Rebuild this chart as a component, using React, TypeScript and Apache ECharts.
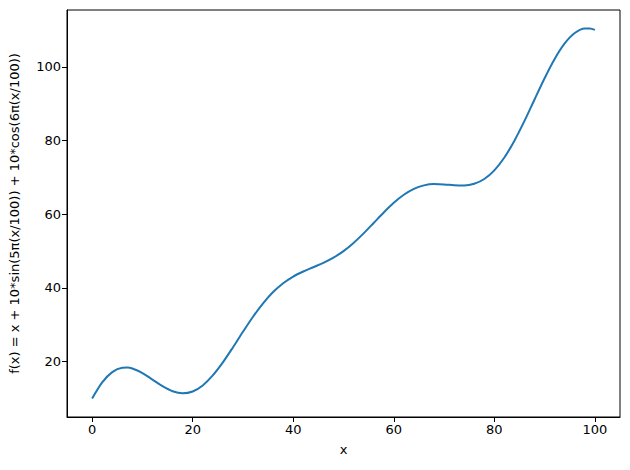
import React, { useEffect, useRef } from "react";
import * as echarts from "echarts";

const xValues = [0,2,4,6,7,8,10,12,14,16,18,20,22,24,26,28,30,32,34,36,38,40,42,44,46,48,50,52,54,56,58,60,62,64,66,68,70,72,74,76,78,80,82,84,86,88,90,92,94,96,98,99,100];
const yValues = [10,14.39,17.17,18.35,18.40,18.14,16.91,15.14,13.33,11.96,11.40,11.91,13.55,16.25,19.78,23.85,28.09,32.18,35.83,38.89,41.28,43.09,44.46,45.62,46.80,48.21,50,52.21,54.80,57.62,60.46,63.09,65.28,66.89,67.83,68.18,68.09,67.85,67.78,68.25,69.55,71.91,75.40,79.96,85.33,91.14,96.91,102.14,106.35,109.17,110.39,110.39,110];
const xTicks = [0,20,40,60,80,100];
const yTicks = [20,40,60,80,100];

export default function App() {
  const ref = useRef<HTMLDivElement>(null);
  useEffect(() => {
    const chart = echarts.init(ref.current!, null, { renderer: "svg" });
    const font = "DejaVu Sans";
    chart.setOption({
      animation: false,
      grid: { left: 67, right: 10, top: 10, bottom: 53 },
      xAxis: {
        type: "value",
        min: -5,
        max: 105,
        name: "x",
        nameLocation: "middle",
        nameGap: 26,
        nameTextStyle: { color: "#000", fontFamily: font, fontSize: 13 },
        splitLine: { show: false },
        axisLine: { show: true, onZero: false, lineStyle: { color: "#000", width: 1 } },
        axisTick: { show: true, customValues: xTicks, length: 5, lineStyle: { color: "#000" } },
        axisLabel: { customValues: xTicks, color: "#000", fontFamily: font, fontSize: 13, margin: 6 },
      },
      yAxis: {
        type: "value",
        min: 4.98,
        max: 115.41,
        name: "f(x) = x + 10*sin(5π(x/100)) + 10*cos(6π(x/100))",
        nameLocation: "middle",
        nameGap: 46,
        nameTextStyle: { color: "#000", fontFamily: font, fontSize: 13 },
        splitLine: { show: false },
        axisLine: { show: true, onZero: false, lineStyle: { color: "#000", width: 1 } },
        axisTick: { show: true, customValues: yTicks, length: 5, lineStyle: { color: "#000" } },
        axisLabel: { customValues: yTicks, color: "#000", fontFamily: font, fontSize: 13, margin: 6 },
      },
      graphic: [
        { type: "rect", shape: { x: 67, y: 10, width: 553, height: 407 }, style: { fill: "none", stroke: "#000", lineWidth: 1 }, silent: true },
      ],
      series: [
        {
          type: "line",
          data: xValues.map((x, i) => [x, yValues[i]]),
          smooth: 0.3,
          showSymbol: false,
          lineStyle: { color: "#1f77b4", width: 2 },
        },
      ],
    });
    return () => chart.dispose();
  }, []);
  return <div ref={ref} style={{ width: 630, height: 470, position: "fixed", left: 0, top: 0, background: "#fff" }} />;
}
